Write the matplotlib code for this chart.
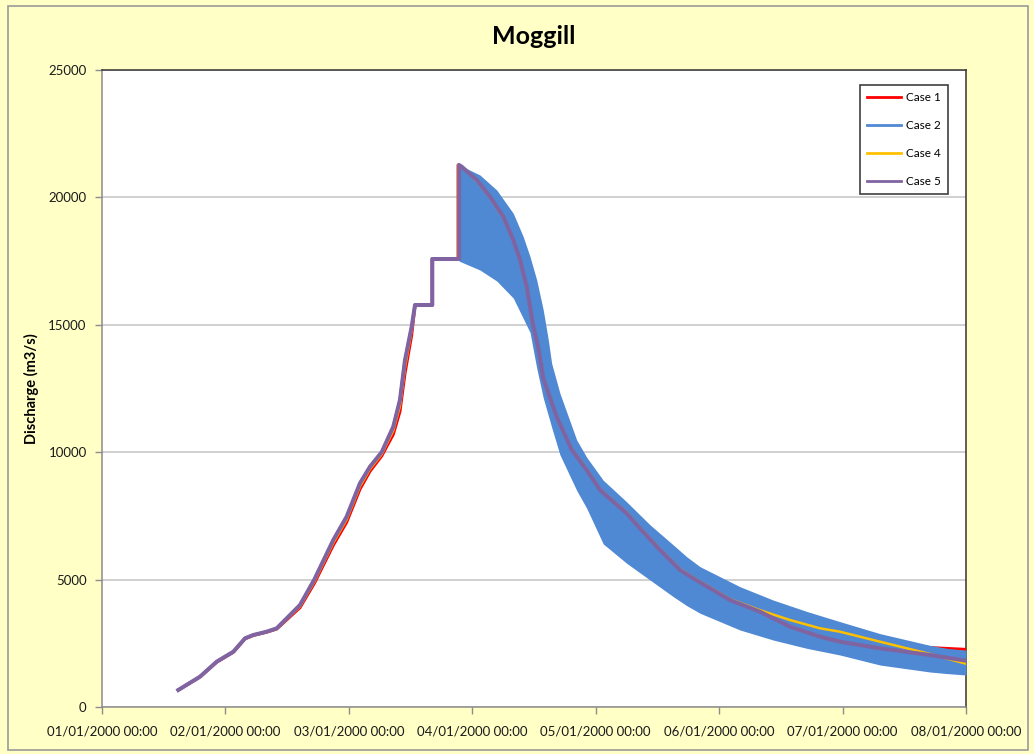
import matplotlib
matplotlib.use("Agg")
import matplotlib.pyplot as plt
from matplotlib.lines import Line2D
from matplotlib.patches import Rectangle

# time in days after 01/01/2000 00:00, discharge in m3/s

# Case 5 (purple)
case5_t = [0.618, 0.794, 0.929, 1.064, 1.159, 1.226, 1.334, 1.415, 1.496, 1.604,
           1.72, 1.874, 1.982, 2.09, 2.171, 2.266, 2.36, 2.414, 2.455, 2.509,
           2.536, 2.676, 2.676, 2.893, 2.893,
           2.914, 3.036, 3.143, 3.251, 3.332, 3.387, 3.441, 3.492, 3.535, 3.575,
           3.684, 3.805, 3.927, 4.035, 4.251, 4.359, 4.521, 4.683, 4.791, 5.088,
           5.331, 5.574, 5.817, 5.979, 6.303, 6.708, 7.0]
case5_q = [667, 1190, 1778, 2170, 2696, 2826, 2955, 3085, 3477, 4003,
           5000, 6554, 7469, 8780, 9430, 10000, 11001, 12049, 13619, 14925,
           15777, 15777, 17582, 17582, 21272,
           21205, 20684, 20030, 19243, 18330, 17543, 16496, 15000, 14100, 12900,
           11390, 10100, 9300, 8516, 7601, 7010, 6162, 5377, 5050, 4199,
           3740, 3151, 2759, 2563, 2303, 2041, 1817]

# Case 4 (orange)
case4_t = [0.618, 0.794, 0.929, 1.064, 1.159, 1.226, 1.334, 1.415, 1.496, 1.604,
           1.72, 1.874, 1.982, 2.09, 2.171, 2.266, 2.36, 2.414, 2.455, 2.509,
           2.536, 2.676, 2.676, 2.885, 2.885,
           2.914, 3.036, 3.143, 3.251, 3.332, 3.387, 3.441, 3.492, 3.535, 3.575,
           3.684, 3.805, 3.927, 4.035, 4.251, 4.359, 4.521, 4.683, 4.791, 5.088,
           5.331, 5.574, 5.817, 5.979, 6.303, 6.708, 7.0]
case4_q = [667, 1185, 1770, 2160, 2690, 2820, 2948, 3070, 3450, 3950,
           4920, 6450, 7360, 8660, 9340, 9920, 10850, 11820, 13350, 14800,
           15777, 15777, 17582, 17582, 21272,
           21205, 20650, 20000, 19200, 18300, 17500, 16450, 14980, 14080, 12900,
           11400, 10130, 9330, 8540, 7630, 7040, 6190, 5410, 5080, 4230,
           3800, 3414, 3089, 2955, 2563, 2080, 1700]

# Case 1 (red)
case1_t = [0.618, 0.794, 0.929, 1.064, 1.159, 1.226, 1.334, 1.415, 1.496, 1.604,
           1.72, 1.874, 1.982, 2.09, 2.171, 2.266, 2.36, 2.414, 2.455, 2.509,
           2.536, 2.676, 2.676, 2.885, 2.885,
           2.914, 3.036, 3.143, 3.251, 3.332, 3.387, 3.441, 3.492, 3.535, 3.575,
           3.684, 3.805, 3.927, 4.035, 4.251, 4.359, 4.521, 4.683, 4.791, 5.088,
           5.331, 5.574, 5.817, 5.979, 6.303, 6.708, 7.0]
case1_q = [667, 1180, 1760, 2150, 2680, 2810, 2940, 3060, 3420, 3900,
           4850, 6350, 7250, 8550, 9250, 9850, 10700, 11600, 13100, 14600,
           15777, 15777, 17582, 17582, 21272,
           21205, 20650, 20000, 19200, 18300, 17500, 16450, 14980, 14080, 12900,
           11400, 10130, 9330, 8540, 7630, 7040, 6190, 5410, 5080, 4230,
           3800, 3414, 3089, 2955, 2650, 2330, 2260]

# Case 2 (blue) - oscillating, shown by its envelope after the peak
case2_t = [2.893, 3.062, 3.198, 3.332, 3.413, 3.468, 3.522, 3.575, 3.616, 3.643,
           3.71, 3.846, 3.927, 4.061, 4.251, 4.44, 4.629, 4.737, 4.845, 5.169,
           5.437, 5.71, 5.979, 6.303, 6.708, 6.85, 7.0]
case2_hi = [21272, 20880, 20290, 19375, 18457, 17672, 16758, 15581, 14403, 13489,
            12312, 10479, 9800, 8900, 8050, 7150, 6358, 5899, 5507, 4721,
            4199, 3750, 3350, 2880, 2420, 2300, 2230]
case2_lo = [17500, 17150, 16720, 16050, 15250, 14700, 13300, 12130, 11440, 10980,
            9900, 8500, 7800, 6400, 5640, 4984, 4329, 3980, 3680, 3022,
            2630, 2303, 2041, 1648, 1374, 1310, 1256]

xtick_labels = ["01/01/2000 00:00", "02/01/2000 00:00", "03/01/2000 00:00",
                "04/01/2000 00:00", "05/01/2000 00:00", "06/01/2000 00:00",
                "07/01/2000 00:00", "08/01/2000 00:00"]

c_red = "#FF0000"
c_blue = "#4F88D3"
c_orange = "#FFC000"
c_purple = "#8064A2"

plt.rcParams['font.family'] = ['Lato', 'DejaVu Sans']

fig = plt.figure(figsize=(10.34, 7.54), dpi=100, facecolor="#FFFFC6")
fig.patches.append(Rectangle((8 / 1034, 4 / 754), 1020 / 1034, 744 / 754,
                             transform=fig.transFigure, fill=False,
                             edgecolor="#9A9A9A", linewidth=1.2))
ax = fig.add_axes([102 / 1034, 1 - 707 / 754, 864 / 1034, 637 / 754])
ax.set_facecolor("white")

ax.plot(case1_t, case1_q, color=c_red, lw=2.2, zorder=3)
n_rise = 23
ax.plot(case5_t[:n_rise], case5_q[:n_rise], color=c_blue, lw=2.2, zorder=4)
ax.fill_between(case2_t, case2_lo, case2_hi, color=c_blue, lw=0, zorder=4)
ax.plot(case4_t, case4_q, color=c_orange, lw=1.8, zorder=5)
ax.plot(case5_t, case5_q, color=c_purple, lw=2.9, zorder=6)

ax.set_xlim(0, 7)
ax.set_ylim(0, 25000)
ax.set_xticks(range(8))
ax.set_xticklabels(xtick_labels)
ax.set_yticks(range(0, 25001, 5000))
ax.yaxis.grid(True, color="#C4C4C4", lw=1.1)
ax.set_axisbelow(True)

for s in ["left", "bottom"]:
    ax.spines[s].set_color("#8C8C8C")
for s in ["top", "right"]:
    ax.spines[s].set_color("#333333")
for s in ax.spines.values():
    s.set_linewidth(1.1)
ax.tick_params(axis="both", direction="out", length=5, color="#8C8C8C",
               labelsize=9.5, labelcolor="#1A1A1A", width=1)
ax.tick_params(axis="x", pad=8)
ax.tick_params(axis="y", pad=6)

ax.set_title("Moggill", fontsize=18, fontweight="bold", pad=19)
ax.set_ylabel("Discharge (m3/s)", fontsize=10.5, fontweight="bold", labelpad=7)

handles = [Line2D([], [], color=c_red, lw=2),
           Line2D([], [], color=c_blue, lw=2),
           Line2D([], [], color=c_orange, lw=2),
           Line2D([], [], color=c_purple, lw=2)]
leg = ax.legend(handles, ["Case 1", "Case 2", "Case 4", "Case 5"],
                loc="upper right", bbox_to_anchor=(0.979, 0.977),
                fontsize=8.5, fancybox=False, framealpha=1, edgecolor="#404040",
                handlelength=2.9, labelspacing=1.45, borderpad=0.6,
                handletextpad=0.4, borderaxespad=0)
leg.get_frame().set_linewidth(1.2)

fig.savefig("out.png", dpi=100, facecolor=fig.get_facecolor())
